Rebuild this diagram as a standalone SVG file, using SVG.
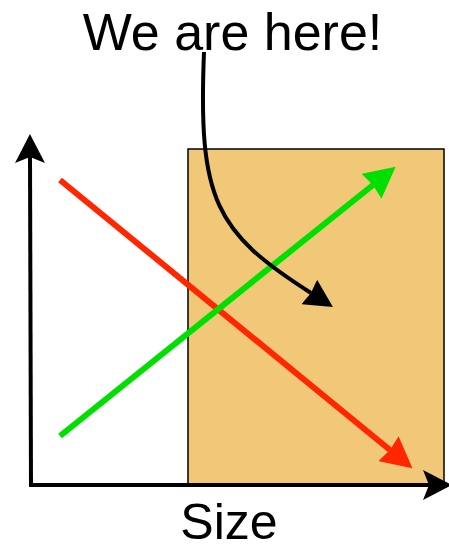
<svg xmlns="http://www.w3.org/2000/svg" width="449" height="547" viewBox="0 0 449 547">
<style>
text{font-family:"Liberation Sans",Arial,sans-serif;fill:#000;text-anchor:middle}
.ax{stroke:#000;stroke-width:4;fill:none}
</style>
<defs>
<marker id="ha" markerUnits="userSpaceOnUse" markerWidth="30" markerHeight="30" refX="6" refY="15" orient="auto" viewBox="0 0 29 30"><path d="M0,0 L29,15 L0,30 L6,15 Z" fill="#000"/></marker>
<marker id="hk" markerUnits="userSpaceOnUse" markerWidth="28" markerHeight="29" refX="2" refY="14.5" orient="auto" viewBox="0 0 28 29"><path d="M0,0 L28,14.5 L0,29 L2,14.5 Z" fill="#000"/></marker>
<marker id="hr" markerUnits="userSpaceOnUse" markerWidth="31" markerHeight="32" refX="2" refY="16" orient="auto" viewBox="0 0 31 32"><path d="M0,0 L31,16 L0,32 L2,16 Z" fill="#FF2600"/></marker>
<marker id="hg" markerUnits="userSpaceOnUse" markerWidth="31" markerHeight="32" refX="2" refY="16" orient="auto" viewBox="0 0 31 32"><path d="M0,0 L31,16 L0,32 L2,16 Z" fill="#00E000"/></marker>
</defs>
<g id="box"><rect x="188" y="149" width="256" height="336" fill="#F0C878" stroke="#000" stroke-width="1.5"/></g>
<g id="axes">
<line class="ax" x1="31" y1="487" x2="30" y2="157" marker-end="url(#ha)"/>
<line class="ax" x1="29" y1="485" x2="429" y2="485" marker-end="url(#ha)"/>
</g>
<g id="connectors">
<line x1="60" y1="180" x2="390" y2="450" stroke="#FF2600" stroke-width="6" marker-end="url(#hr)"/>
<line x1="60" y1="436" x2="373" y2="185" stroke="#00E000" stroke-width="6" marker-end="url(#hg)"/>
<path d="M204,52 C198,200 215,232 311,293" fill="none" stroke="#000" stroke-width="4" marker-end="url(#hk)"/>
</g>
<g id="labels">
<text x="232.5" y="50" font-size="52">We are here!</text>
<text x="229" y="539" font-size="50">Size</text>
</g>
</svg>
